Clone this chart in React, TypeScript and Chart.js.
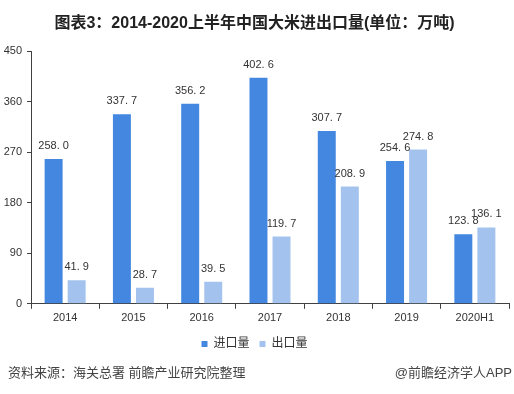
import React, { useEffect, useRef } from "react";
import { Chart, registerables } from "chart.js";
Chart.register(...registerables);

const categories = ["2014", "2015", "2016", "2017", "2018", "2019", "2020H1"];
const importValues = [258.0, 337.7, 356.2, 402.6, 307.7, 254.6, 123.8];
const exportValues = [41.9, 28.7, 39.5, 119.7, 208.9, 274.8, 136.1];
const yMin = 0;
const yMax = 450;
const yStep = 90;
const seriesNames = ["进口量", "出口量"];
const titleText = "图表3：2014-2020上半年中国大米进出口量(单位：万吨)";
const sourceText = "资料来源：海关总署 前瞻产业研究院整理";
const brandText = "@前瞻经济学人APP";

const FONT = "'Liberation Sans', Arial, 'Noto Sans CJK SC', sans-serif";
const IMPORT_COLOR = "#4387E0";
const EXPORT_COLOR = "#A3C3EE";
const TEXT = "#333333";
const AXIS = "#404040";

const labelPlugin = {
  id: "barLabels",
  afterDatasetsDraw(chart: any) {
    const ctx = chart.ctx;
    ctx.save();
    ctx.font = `11px ${FONT}`;
    ctx.fillStyle = TEXT;
    ctx.textAlign = "center";
    ctx.textBaseline = "middle";
    chart.data.datasets.forEach((ds: any, i: number) => {
      const meta = chart.getDatasetMeta(i);
      meta.data.forEach((el: any, j: number) => {
        const v = ds.data[j] as number;
        const txt = v.toFixed(1).replace(".", ". ");
        ctx.fillText(txt, el.x, el.y - 13);
      });
    });
    ctx.restore();
  },
};

const footerPlugin = {
  id: "footer",
  afterDraw(chart: any) {
    const ctx = chart.ctx;
    ctx.save();
    ctx.font = `13px ${FONT}`;
    ctx.fillStyle = "#444444";
    ctx.textBaseline = "middle";
    ctx.textAlign = "left";
    ctx.fillText(sourceText, 8, 373);
    ctx.textAlign = "right";
    ctx.fillText(brandText, 512, 373);
    ctx.restore();
  },
};

export default function App() {
  const ref = useRef<HTMLCanvasElement | null>(null);
  useEffect(() => {
    if (!ref.current) return;
    const chart = new Chart(ref.current, {
      type: "bar",
      data: {
        labels: categories,
        datasets: [
          {
            label: seriesNames[0],
            data: importValues,
            backgroundColor: IMPORT_COLOR,
            categoryPercentage: 0.675,
            barPercentage: 0.78,
          },
          {
            label: seriesNames[1],
            data: exportValues,
            backgroundColor: EXPORT_COLOR,
            categoryPercentage: 0.675,
            barPercentage: 0.78,
          },
        ],
      },
      options: {
        responsive: false,
        animation: false,
        layout: { padding: { top: 0, left: 0, right: 5, bottom: 34 } },
        plugins: {
          tooltip: { enabled: false },
          title: {
            display: true,
            text: titleText,
            color: "#222222",
            font: { family: FONT, size: 16, weight: "bold" },
            padding: { top: 14, bottom: 18 },
          },
          legend: {
            display: true,
            position: "bottom",
            labels: {
              boxWidth: 6,
              boxHeight: 6,
              color: TEXT,
              font: { family: FONT, size: 12 },
              padding: 10,
            },
          },
        },
        scales: {
          x: {
            grid: {
              display: true,
              drawOnChartArea: false,
              tickLength: 5,
              color: AXIS,
              offset: true,
            },
            border: { color: AXIS },
            ticks: {
              color: TEXT,
              font: { family: FONT, size: 11 },
              padding: 3,
              maxRotation: 0,
            },
          },
          y: {
            min: yMin,
            max: yMax,
            afterFit(scale: any) {
              scale.width = 31;
            },
            grid: {
              display: true,
              drawOnChartArea: false,
              tickLength: 4,
              color: AXIS,
            },
            border: { color: AXIS },
            ticks: {
              stepSize: yStep,
              color: TEXT,
              font: { family: FONT, size: 11 },
              padding: 5,
            },
          },
        },
      },
      plugins: [labelPlugin, footerPlugin],
    });
    return () => chart.destroy();
  }, []);
  return (
    <div style={{ position: "absolute", left: 0, top: 0, width: 514, height: 394, background: "#fff" }}>
      <canvas ref={ref} width={514} height={394} style={{ width: 514, height: 394 }} />
    </div>
  );
}
